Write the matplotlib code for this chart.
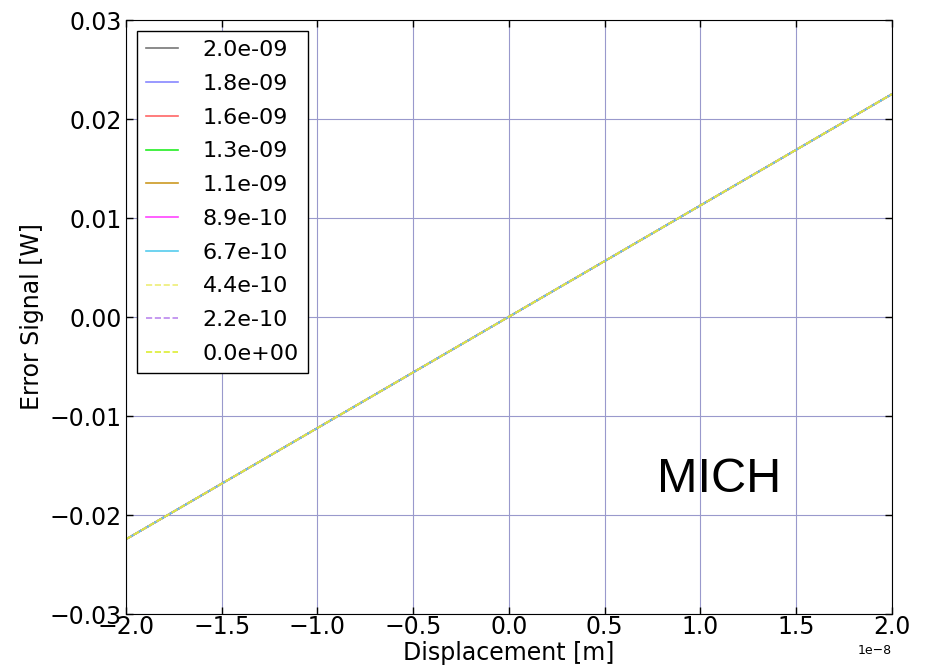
import matplotlib
matplotlib.use("Agg")
import matplotlib.pyplot as plt

# displacement endpoints [m] and error signal [W] for each sweep value
displacement = [-2.0e-8, 2.0e-8]
labels = ['2.0e-09', '1.8e-09', '1.6e-09', '1.3e-09', '1.1e-09',
          '8.9e-10', '6.7e-10', '4.4e-10', '2.2e-10', '0.0e+00']
signals = [
    [-0.02245, 0.02252],
    [-0.02245, 0.02252],
    [-0.02245, 0.02252],
    [-0.02245, 0.02252],
    [-0.02245, 0.02252],
    [-0.02245, 0.02252],
    [-0.02245, 0.02252],
    [-0.02245, 0.02252],
    [-0.02245, 0.02252],
    [-0.02245, 0.02252],
]
colors = ['#777777', '#8888ff', '#ff6666', '#22ee22', '#cc9922',
          '#ff44ff', '#55ccee', '#eeee77', '#bb88ee', '#ddee33']
styles = ['-'] * 7 + ['--'] * 3

fig = plt.figure(figsize=(9.27, 6.68), dpi=100)
ax = fig.add_axes([0.1359, 0.0808, 0.8263, 0.8892])

for sig, lab, c, ls in zip(signals, labels, colors, styles):
    ax.plot(displacement, sig, color=c, linestyle=ls, linewidth=1.2, label=lab)

ax.set_xlim(-2e-8, 2e-8)
ax.set_ylim(-0.03, 0.03)
ax.set_xticks([i * 0.5e-8 for i in range(-4, 5)])
ax.set_yticks([-0.03, -0.02, -0.01, 0.0, 0.01, 0.02, 0.03])
ax.ticklabel_format(axis='x', style='sci', scilimits=(0, 0))
ax.xaxis.get_offset_text().set_fontsize(9)
ax.tick_params(direction='in', top=True, right=True, labelsize=17, length=5, width=1)
ax.tick_params(axis='x', pad=1)
ax.tick_params(axis='y', pad=3)
ax.grid(True, color='#9999cc', linewidth=0.8)

ax.set_xlabel('Displacement [m]', fontsize=17, labelpad=1)
ax.set_ylabel('Error Signal [W]', fontsize=17)

ax.text(0.775, 0.226, 'MICH', transform=ax.transAxes, fontsize=35,
        family='Liberation Sans', ha='center', va='center')

leg = ax.legend(loc='upper left', fontsize=16, handlelength=1.45,
                fancybox=False, framealpha=1, borderaxespad=0.5,
                handletextpad=1.1, labelspacing=0.62)
leg.get_frame().set_edgecolor('black')

fig.savefig('out.png')
